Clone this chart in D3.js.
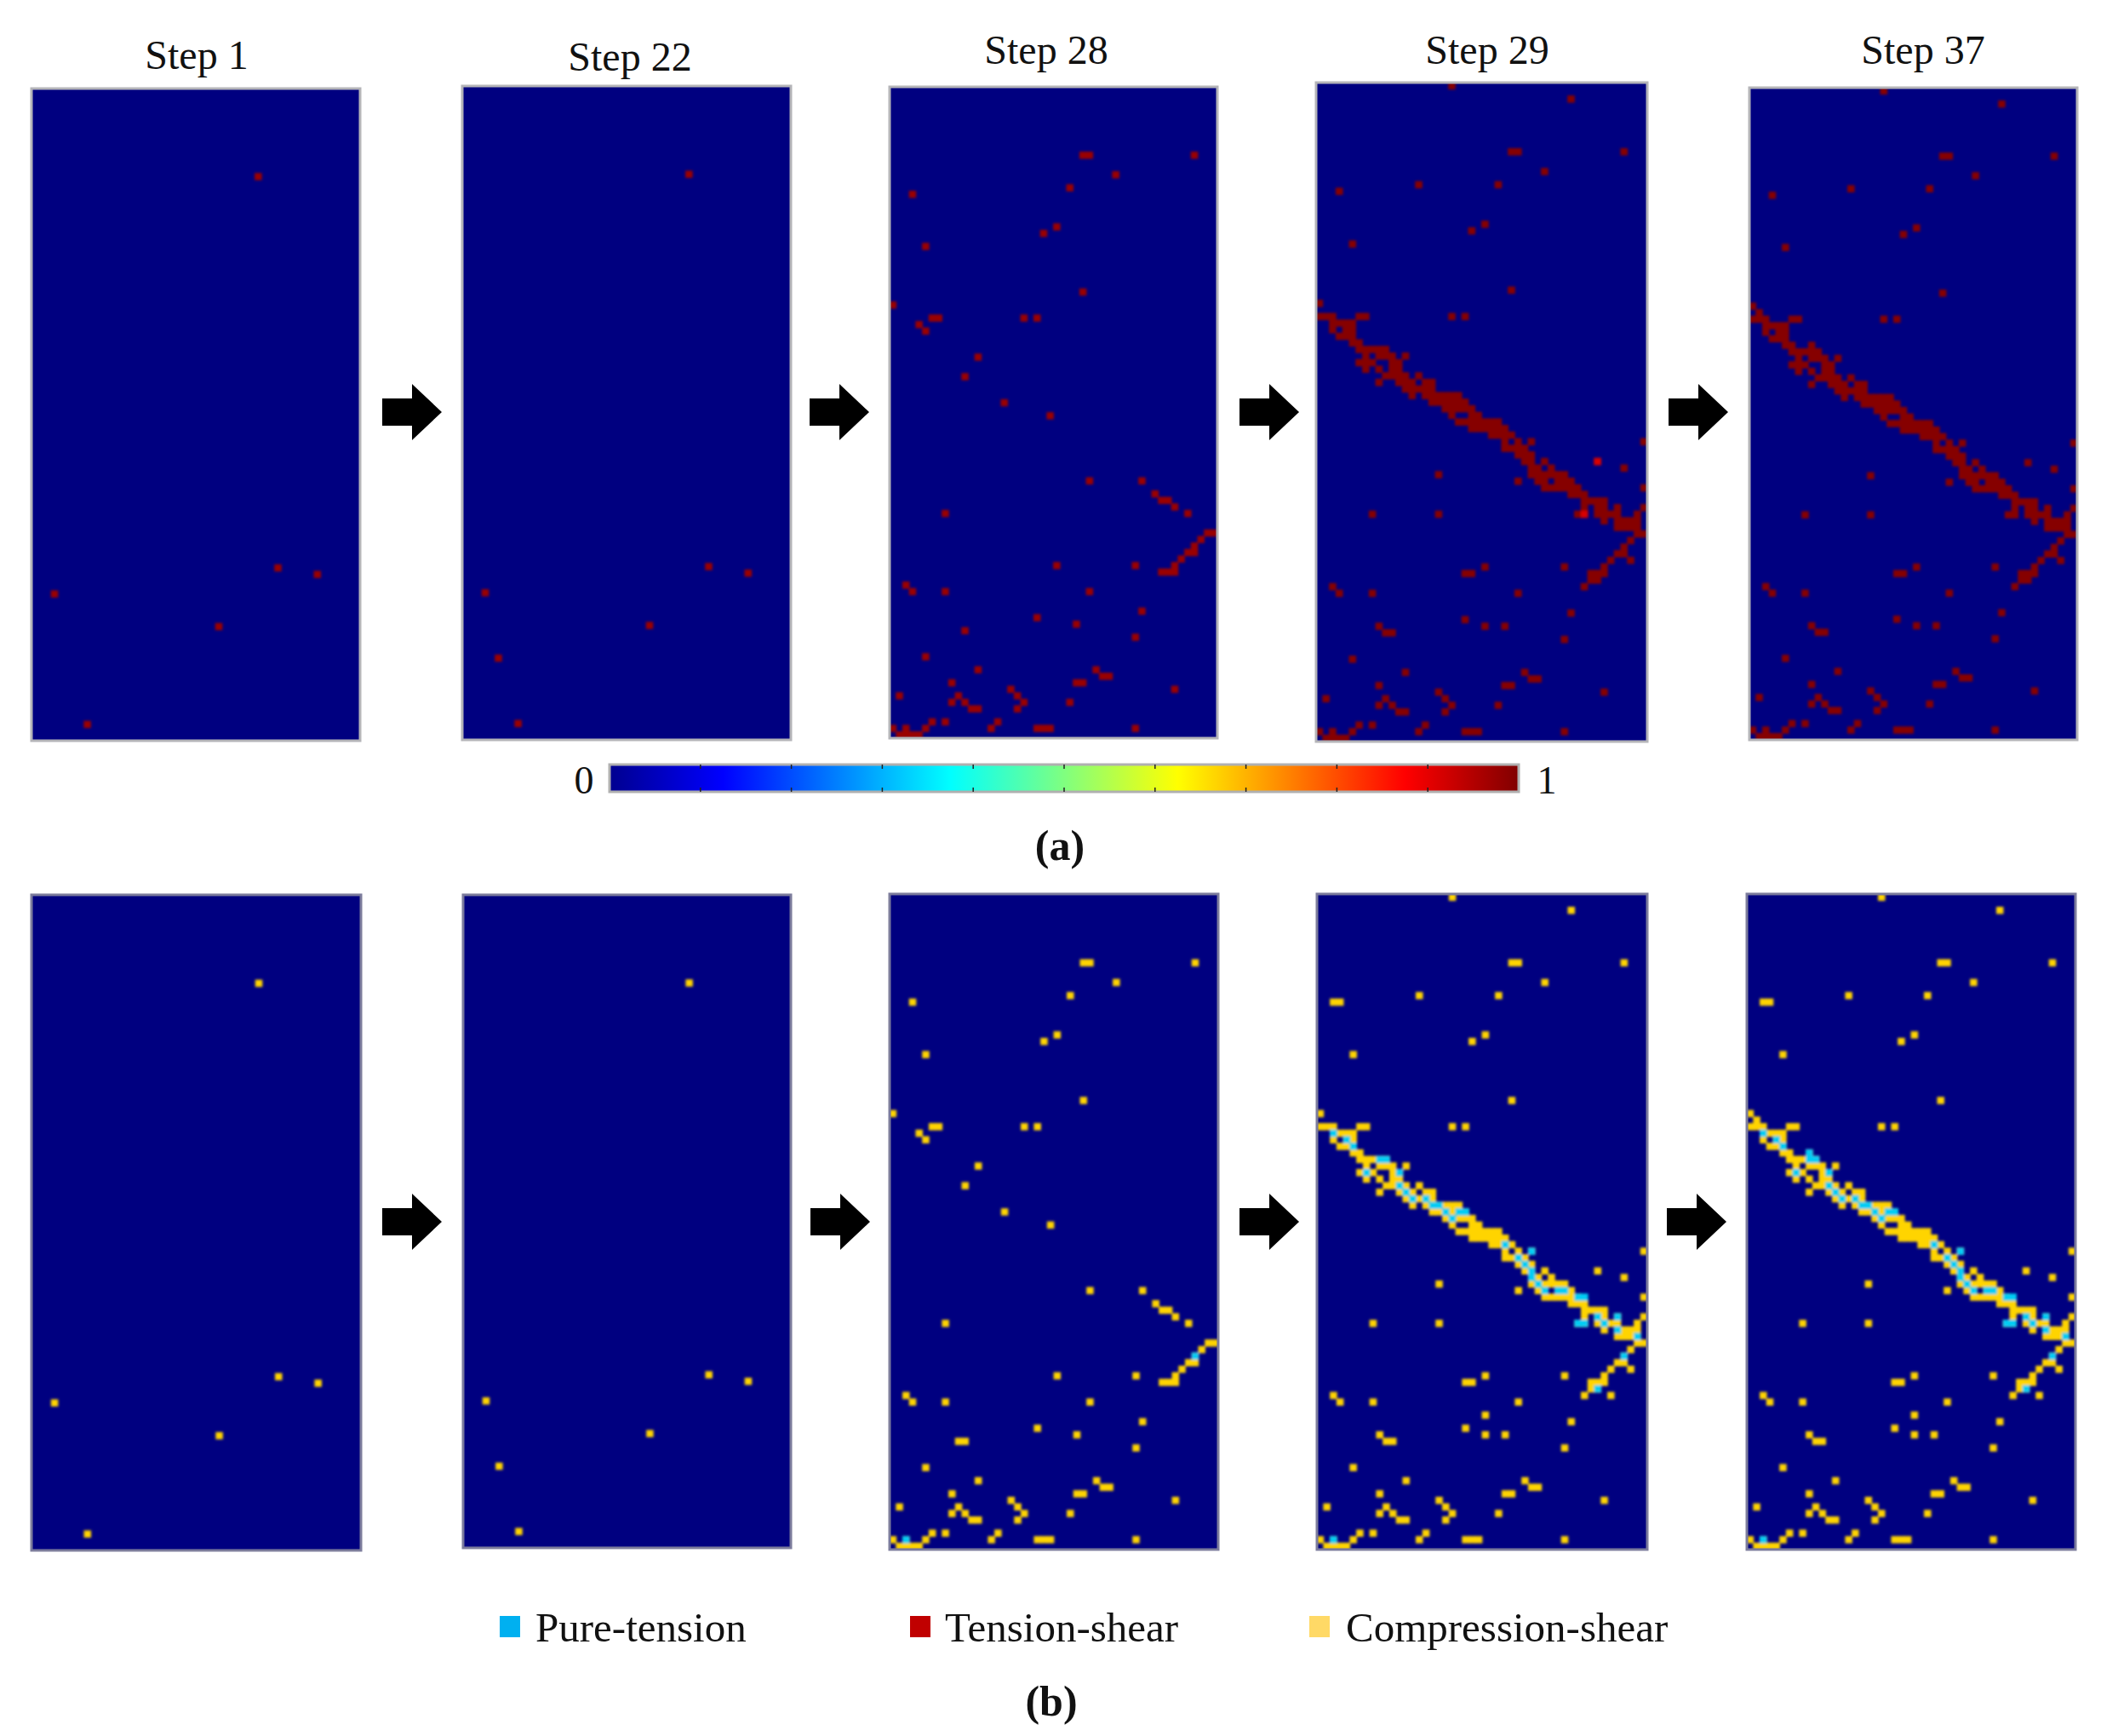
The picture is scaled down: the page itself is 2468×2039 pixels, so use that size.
<!DOCTYPE html>
<html><head><meta charset="utf-8">
<script src="https://cdn.jsdelivr.net/npm/d3@7/dist/d3.min.js"></script>
<style>html,body{margin:0;background:#fff}svg{display:block}text{font-family:"Liberation Serif",serif;fill:#111}</style>
</head><body><svg id="c" width="2468" height="2039"></svg>
<script>
// Damage grids: 50 columns x 100 rows. Each run = [row, firstColumn, lastColumn]
const stepLabels = ["Step 1","Step 22","Step 28","Step 29","Step 37"];
const runsStep1 = [[13,34,34],[73,37,37],[74,43,43],[77,3,3],[82,28,28],[97,8,8]];
const runsStep22Extra = [[87,5,5]];
const runsStep28 = [[10,29,30],[10,46,46],[13,34,34],[15,27,27],[16,3,3],[21,25,25],[22,23,23],[24,5,5],[31,29,29],[33,0,0],[35,6,7],[35,20,20],[35,22,22],[36,4,4],[37,5,5],[41,13,13],[44,11,11],[48,17,17],[50,24,24],[60,30,30],[60,38,38],[62,40,40],[63,41,42],[64,43,43],[65,45,45],[65,8,8],[68,48,49],[69,47,47],[70,46,46],[71,45,46],[72,44,44],[73,25,25],[73,37,37],[73,43,43],[74,41,43],[76,2,2],[77,3,3],[77,8,8],[77,30,30],[80,38,38],[81,22,22],[82,28,28],[83,11,11],[84,37,37],[87,5,5],[89,13,13],[89,31,31],[90,32,33],[91,9,9],[91,28,29],[92,18,18],[92,43,43],[93,1,1],[93,10,10],[93,19,19],[94,9,9],[94,11,11],[94,20,20],[94,27,27],[95,12,13],[95,19,19],[97,6,6],[97,8,8],[97,16,16],[98,0,0],[98,2,2],[98,5,5],[98,15,15],[98,22,24],[98,37,37],[99,1,4]];
const runsStep28bExtra = [[83,10,10]];
const runsStep29 = [[0,20,20],[2,38,38],[10,29,30],[10,46,46],[13,34,34],[15,15,15],[15,27,27],[16,3,3],[21,25,25],[22,23,23],[24,5,5],[31,29,29],[33,0,0],[35,20,20],[35,22,22],
[35,0,2],[35,6,7],[36,2,5],[37,2,2],[37,4,5],[38,3,5],[39,5,6],[40,6,10],[41,7,7],[41,9,11],[41,13,13],[42,6,8],[42,11,12],[43,7,7],[43,9,9],[43,11,12],[44,10,13],[44,15,15],[45,9,9],[45,12,14],[45,16,17],[46,13,17],[47,14,14],[47,16,21],[48,17,22],[49,19,23],[50,20,20],[50,23,24],[51,21,27],[52,23,28],[53,26,29],[54,28,28],[54,30,30],[54,32,32],[54,49,49],[55,28,31],[56,30,32],[57,31,32],[57,34,34],[57,42,42],[58,32,33],[58,35,35],[58,46,46],[59,18,18],[59,32,37],[60,30,30],[60,33,34],[60,36,38],[61,34,39],[61,49,49],[62,38,40],[63,40,43],[64,40,40],[64,42,43],[64,45,45],[64,49,49],[65,8,8],[65,18,18],[65,39,40],[65,42,45],[65,48,48],[66,43,43],[66,45,48],[67,45,48],[68,48,49],[69,47,47],[70,46,46],[71,45,46],[72,44,44],[72,47,47],[73,25,25],[73,37,37],[73,43,43],[74,22,23],[74,41,43],[75,41,42],[76,2,2],[76,40,40],[77,3,3],[77,8,8],[77,30,30],[80,38,38],[81,22,22],[82,9,9],[82,25,25],[82,28,28],[83,10,11],[84,37,37],[87,5,5],[89,13,13],[89,31,31],[90,32,33],[91,9,9],[91,28,29],[92,18,18],[92,43,43],[93,1,1],[93,10,10],[93,19,19],[94,9,9],[94,11,11],[94,20,20],[94,27,27],[95,12,13],[95,19,19],[97,6,6],[97,8,8],[97,16,16],[98,0,0],[98,2,2],[98,5,5],[98,15,15],[98,22,24],[98,37,37],[99,1,4]];
const runsStep29bExtra = [[16,2,2],[76,44,44],[79,25,25]];
const runsStep37Extra = [[34,1,1],[39,9,9]];
const brightRuns = [[57,42,42],[65,40,40]];
const pureTensionStep28 = [[70,46,46],[98,2,2]];
const pureTensionStep29 = [[36,2,2],[37,4,4],[38,5,5],[40,9,10],[42,7,7],[42,12,12],[44,12,12],[45,13,13],[46,14,14],[46,16,16],[47,17,18],[48,19,19],[48,21,22],[49,20,20],[53,28,28],[54,32,32],[55,30,30],[56,31,31],[57,32,32],[58,32,32],[59,33,33],[60,34,34],[60,36,37],[61,39,40],[64,42,42],[64,45,45],[65,39,40],[65,43,43],[66,45,45],[67,48,48],[70,46,46],[75,42,42],[98,2,2]];
const pureTensionStep37Extra = [[39,9,9]];
const colorbarStops = [0,0.125,0.375,0.625,0.875,1];
const colorbarColors = ["#00008f","#0000ff","#00ffff","#ffff00","#ff0000","#800000"];
const colorbarTicks = [0.1,0.2,0.3,0.4,0.5,0.6,0.7,0.8,0.9];
const legendLabels = ["Pure-tension","Tension-shear","Compression-shear"];
const legendColors = ["#00b0f0","#c00000","#ffd966"];

// layout
const framesA = [[37,423,104,870],[543,929,101,869],[1045,1430,102,867],[1546,1935,97,871],[2055,2440,103,869]];
const framesB = [[37,424,1051,1821],[544,929,1051,1818],[1045,1431,1050,1820],[1547,1935,1050,1820],[2052,2438,1050,1820]];
const labelPos = [[231,81],[740,83],[1229,75],[1747,75],[2259,75]];
const arrowsA = [449,951,1456,1960], arrowsB = [449,952,1456,1958];

const svg = d3.select("#c");
const defs = svg.append("defs");
const f = defs.append("filter").attr("id","soft").attr("x","-5%").attr("y","-5%").attr("width","110%").attr("height","110%");
f.append("feGaussianBlur").attr("stdDeviation",1.5);

const expand = runs => runs.flatMap(([r,a,b]) => d3.range(a,b+1).map(c => ({r,c})));

function panel(frame, idx, layers, strokeCol, id){
  const [x0,x1,y0,y1] = frame;
  const x = d3.scaleBand().domain(d3.range(50)).range([x0,x1]);
  const y = d3.scaleBand().domain(d3.range(100)).range([y0,y1]);
  const clip = defs.append("clipPath").attr("id",id);
  clip.append("rect").attr("x",x0).attr("y",y0).attr("width",x1-x0).attr("height",y1-y0);
  const g = svg.append("g");
  g.append("rect").attr("x",x0).attr("y",y0).attr("width",x1-x0).attr("height",y1-y0).attr("fill","#000080");
  const inner = g.append("g").attr("clip-path",`url(#${id})`).append("g").attr("filter","url(#soft)");
  layers.forEach(l=>{
    inner.append("g").selectAll("rect").data(expand(l.runs)).join("rect")
      .attr("x",d=>x(d.c)-0.4).attr("y",d=>y(d.r)-0.4)
      .attr("width",x.bandwidth()+0.8).attr("height",y.bandwidth()+0.8).attr("fill",l.color);
  });
  g.append("rect").attr("x",x0).attr("y",y0).attr("width",x1-x0).attr("height",y1-y0)
    .attr("fill","none").attr("stroke",strokeCol).attr("stroke-width",3);
}

const RED="#860000", YEL="#ffd400", CYA="#00cdf5";
const aRuns = [runsStep1, runsStep1.concat(runsStep22Extra), runsStep28, runsStep29, runsStep29.concat(runsStep37Extra)];
const bRuns = [aRuns[0], aRuns[1], runsStep28.concat(runsStep28bExtra),
  runsStep29.concat(runsStep29bExtra), runsStep29.concat(runsStep29bExtra,runsStep37Extra)];
const cyanRuns = [[],[],pureTensionStep28,pureTensionStep29,pureTensionStep29.concat(pureTensionStep37Extra)];

framesA.forEach((fr,i)=>{
  const layers=[{runs:aRuns[i],color:i<3?"#9a0000":RED}];
  if(i===3) layers.push({runs:brightRuns,color:"#d80000"});
  panel(fr,i,layers,"#b4b4b8","pa"+i);
});
framesB.forEach((fr,i)=>{
  panel(fr,i,[{runs:bRuns[i],color:YEL},{runs:cyanRuns[i],color:CYA}],"#7c7c9c","pb"+i);
});

svg.append("g").selectAll("text").data(stepLabels).join("text")
  .attr("x",(d,i)=>labelPos[i][0]).attr("y",(d,i)=>labelPos[i][1])
  .attr("text-anchor","middle").attr("font-size",48).text(d=>d);

// block arrows
function arrow(x,cy){
  const p=d3.path();
  p.moveTo(x,cy-16);p.lineTo(x+35,cy-16);p.lineTo(x+35,cy-33);p.lineTo(x+70,cy);
  p.lineTo(x+35,cy+33);p.lineTo(x+35,cy+16);p.lineTo(x,cy+16);p.closePath();
  svg.append("path").attr("d",p.toString()).attr("fill","#000");
}
arrowsA.forEach(x=>arrow(x,484));
arrowsB.forEach(x=>arrow(x,1435));

// colorbar
const cb={x0:716,x1:1784,y0:898,y1:930};
const grad=defs.append("linearGradient").attr("id","jet");
grad.selectAll("stop").data(colorbarStops).join("stop")
  .attr("offset",d=>d).attr("stop-color",(d,i)=>colorbarColors[i]);
svg.append("rect").attr("x",cb.x0).attr("y",cb.y0).attr("width",cb.x1-cb.x0).attr("height",cb.y1-cb.y0)
  .attr("fill","url(#jet)").attr("stroke","#b0b0b0").attr("stroke-width",3);
const cbx=d3.scaleLinear().domain([0,1]).range([cb.x0,cb.x1]);
const tk=svg.append("g").selectAll("g").data(colorbarTicks).join("g");
tk.append("line").attr("x1",d=>cbx(d)).attr("x2",d=>cbx(d)).attr("y1",cb.y0).attr("y2",cb.y0+5);
tk.append("line").attr("x1",d=>cbx(d)).attr("x2",d=>cbx(d)).attr("y1",cb.y1-5).attr("y2",cb.y1);
tk.selectAll("line").attr("stroke","#222").attr("stroke-width",1.5);
svg.append("text").attr("x",686).attr("y",932).attr("text-anchor","middle").attr("font-size",46).text("0");
svg.append("text").attr("x",1817).attr("y",932).attr("text-anchor","middle").attr("font-size",46).text("1");
svg.append("text").attr("x",1245).attr("y",1010).attr("text-anchor","middle").attr("font-size",50).attr("font-weight","bold").text("(a)");
svg.append("text").attr("x",1235).attr("y",2015).attr("text-anchor","middle").attr("font-size",50).attr("font-weight","bold").text("(b)");

// legend
const legendX=[587,1069,1538], legendTextX=[629,1110,1581];
const lg=svg.append("g").selectAll("g").data(legendLabels).join("g");
lg.append("rect").attr("x",(d,i)=>legendX[i]).attr("y",1898).attr("width",24).attr("height",25).attr("fill",(d,i)=>legendColors[i]);
lg.append("text").attr("x",(d,i)=>legendTextX[i]).attr("y",1928).attr("font-size",49).text(d=>d);
</script></body></html>
